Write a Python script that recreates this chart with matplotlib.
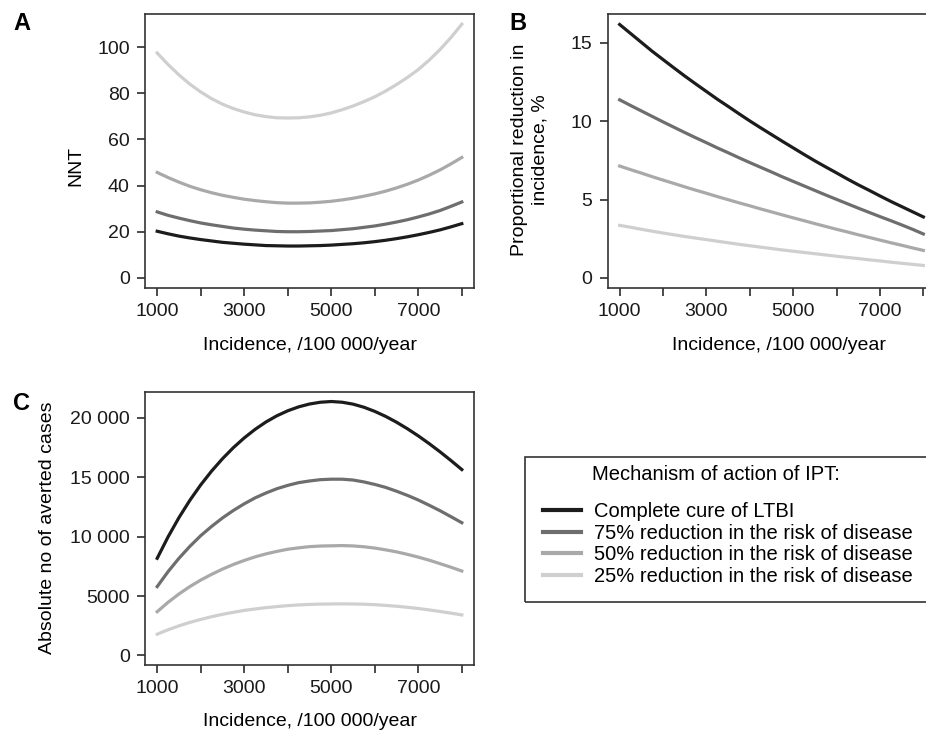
import matplotlib.pyplot as plt
from matplotlib.patches import Rectangle

plt.rcParams['font.family'] = ['Liberation Sans', 'DejaVu Sans']

W, H = 926, 732

# Incidence, /100 000/year
incidence = [1000, 1250, 1500, 1750, 2000, 2250, 2500, 2750, 3000, 3250,
             3500, 3750, 4000, 4250, 4500, 4750, 5000, 5250, 5500, 5750,
             6000, 6250, 6500, 6750, 7000, 7250, 7500, 7750, 8000]

mechanisms = ['Complete cure of LTBI',
              '75% reduction in the risk of disease',
              '50% reduction in the risk of disease',
              '25% reduction in the risk of disease']
colors = ['#1c1c1c', '#6e6e6e', '#a9a9a9', '#cfcfcf']

# A: number needed to treat
nnt_cure = [20.2, 19.1, 18.1, 17.3, 16.6, 16.0, 15.4, 15.0, 14.6, 14.3,
            14.0, 13.9, 13.8, 13.8, 13.9, 14.0, 14.2, 14.5, 14.8, 15.2,
            15.7, 16.3, 17.0, 17.8, 18.7, 19.7, 20.8, 22.1, 23.5]
nnt_75 = [28.6, 27.1, 25.9, 24.8, 23.8, 23.0, 22.3, 21.6, 21.1, 20.7,
          20.4, 20.1, 20.0, 20.0, 20.1, 20.3, 20.5, 20.9, 21.3, 21.9,
          22.5, 23.3, 24.2, 25.2, 26.4, 27.7, 29.2, 31.0, 32.9]
nnt_50 = [45.7, 43.5, 41.5, 39.7, 38.2, 36.9, 35.8, 34.9, 34.1, 33.5,
          33.0, 32.6, 32.4, 32.4, 32.5, 32.8, 33.2, 33.8, 34.5, 35.4,
          36.4, 37.6, 39.0, 40.6, 42.4, 44.5, 46.8, 49.4, 52.2]
nnt_25 = [97.5, 92.5, 88.0, 84.0, 80.6, 77.7, 75.3, 73.4, 71.9, 70.7,
          69.9, 69.4, 69.3, 69.4, 69.8, 70.5, 71.5, 72.9, 74.5, 76.4,
          78.5, 81.0, 83.8, 86.9, 90.3, 94.4, 99.0, 104.2, 110.0]

# B: proportional reduction in incidence, %
red_cure = [16.18, 15.61, 15.04, 14.47, 13.94, 13.41, 12.89, 12.39, 11.90,
            11.41, 10.95, 10.48, 10.02, 9.58, 9.15, 8.72, 8.30, 7.88, 7.47,
            7.08, 6.70, 6.31, 5.94, 5.59, 5.23, 4.88, 4.55, 4.22, 3.89]
red_75 = [11.37, 11.01, 10.66, 10.31, 9.96, 9.62, 9.28, 8.95, 8.63, 8.30,
          7.99, 7.67, 7.36, 7.06, 6.76, 6.45, 6.16, 5.87, 5.58, 5.29,
          5.01, 4.73, 4.45, 4.18, 3.91, 3.65, 3.38, 3.10, 2.80]
red_50 = [7.14, 6.91, 6.69, 6.46, 6.24, 6.03, 5.81, 5.60, 5.40, 5.19,
          4.99, 4.79, 4.60, 4.40, 4.21, 4.02, 3.83, 3.65, 3.46, 3.28,
          3.10, 2.93, 2.75, 2.58, 2.41, 2.24, 2.08, 1.91, 1.75]
red_25 = [3.35, 3.23, 3.10, 2.98, 2.86, 2.75, 2.64, 2.54, 2.44, 2.34,
          2.24, 2.14, 2.05, 1.96, 1.87, 1.78, 1.70, 1.62, 1.54, 1.46,
          1.38, 1.30, 1.23, 1.15, 1.08, 1.00, 0.93, 0.86, 0.79]

# C: absolute number of averted cases
avert_cure = [8170, 9970, 11590, 13040, 14340, 15500, 16540, 17470, 18290,
              19010, 19630, 20150, 20570, 20900, 21140, 21290, 21350, 21290,
              21130, 20870, 20520, 20100, 19610, 19060, 18460, 17810, 17120,
              16390, 15630]
avert_75 = [5790, 7050, 8170, 9170, 10070, 10850, 11560, 12190, 12750,
            13250, 13660, 14020, 14300, 14530, 14670, 14780, 14820, 14820,
            14750, 14590, 14380, 14130, 13810, 13460, 13070, 12630, 12170,
            11670, 11160]
avert_50 = [3680, 4470, 5170, 5790, 6340, 6820, 7260, 7650, 7990,
            8290, 8540, 8750, 8930, 9050, 9150, 9200, 9220, 9240,
            9210, 9140, 9030, 8880, 8710, 8500, 8270, 8010, 7720,
            7420, 7100]
avert_25 = [1790, 2160, 2490, 2780, 3030, 3260, 3460, 3630, 3790,
            3910, 4020, 4110, 4190, 4250, 4290, 4320, 4330, 4340,
            4330, 4310, 4270, 4210, 4140, 4050, 3950, 3830, 3700,
            3560, 3410]

x_ticks = [1000, 2000, 3000, 4000, 5000, 6000, 7000, 8000]
x_ticklabels = ['1000', '', '3000', '', '5000', '', '7000', '']


def px_axes(fig, left, top, right, bottom):
    return fig.add_axes([left / W, 1 - bottom / H,
                         (right - left) / W, (bottom - top) / H])


def fig_text(fig, x, y, s, **kw):
    fig.text(x / W, 1 - y / H, s, **kw)


def style_axes(ax, yticks, yticklabels, ylim):
    ax.set_xlim(720, 8280)
    ax.set_ylim(*ylim)
    ax.set_xticks(x_ticks)
    ax.set_xticklabels(x_ticklabels)
    ax.set_yticks(yticks)
    ax.set_yticklabels(yticklabels)
    ax.tick_params(direction='out', length=6, width=1.1, labelsize=14,
                   colors='#1a1a1a', pad=5)
    for sp in ax.spines.values():
        sp.set_linewidth(1.2)
        sp.set_color('#333333')


def main():
    fig = plt.figure(figsize=(W / 100, H / 100), dpi=100)

    ax_a = px_axes(fig, 145, 14, 474, 288)
    for ys, c in zip([nnt_cure, nnt_75, nnt_50, nnt_25], colors):
        ax_a.plot(incidence, ys, color=c, lw=2.3)
    style_axes(ax_a, [0, 20, 40, 60, 80, 100],
               ['0', '20', '40', '60', '80', '100'], (-4.4, 114.4))

    ax_b = px_axes(fig, 607.5, 14, 935.5, 288)
    for ys, c in zip([red_cure, red_75, red_50, red_25], colors):
        ax_b.plot(incidence, ys, color=c, lw=2.3)
    style_axes(ax_b, [0, 5, 10, 15], ['0', '5', '10', '15'], (-0.65, 16.85))

    ax_c = px_axes(fig, 145, 392, 474, 665)
    lines = []
    for ys, c in zip([avert_cure, avert_75, avert_50, avert_25], colors):
        ln, = ax_c.plot(incidence, ys, color=c, lw=2.3)
        lines.append(ln)
    style_axes(ax_c, [0, 5000, 10000, 15000, 20000],
               ['0', '5000', '10 000', '15 000', '20 000'], (-800, 22150))

    # axis titles
    fig_text(fig, 310, 345, 'Incidence, /100 000/year', fontsize=14,
             ha='center', va='center')
    fig_text(fig, 779, 345, 'Incidence, /100 000/year', fontsize=14,
             ha='center', va='center')
    fig_text(fig, 310, 721, 'Incidence, /100 000/year', fontsize=14,
             ha='center', va='center')
    fig_text(fig, 76, 166, 'NNT', fontsize=14, rotation=90,
             ha='center', va='center')
    fig_text(fig, 530, 150, 'Proportional reduction in\nincidence, %',
             fontsize=14, rotation=90, ha='center', va='center',
             multialignment='center', linespacing=1.25)
    fig_text(fig, 48, 528, 'Absolute no of averted cases', fontsize=14,
             rotation=90, ha='center', va='center')

    # panel letters
    fig_text(fig, 22, 24, 'A', fontsize=17, fontweight='bold',
             ha='center', va='center')
    fig_text(fig, 518, 23, 'B', fontsize=17, fontweight='bold',
             ha='center', va='center')
    fig_text(fig, 22, 403, 'C', fontsize=17, fontweight='bold',
             ha='center', va='center')

    # legend
    fig.patches.append(Rectangle((525 / W, 1 - 602 / H), 420 / W, 145 / H,
                                 transform=fig.transFigure, fill=False,
                                 lw=1.2, ec='#333333'))
    fig_text(fig, 592, 475, 'Mechanism of action of IPT:', fontsize=14.5,
             ha='left', va='center')
    fig.legend(lines, mechanisms, loc='upper left',
               bbox_to_anchor=(543 / W, 1 - 502 / H), frameon=False,
               fontsize=14.5, borderpad=0, borderaxespad=0,
               handlelength=1.9, handletextpad=0.62, labelspacing=0.135)
    for ln in fig.legends[0].get_lines():
        ln.set_linewidth(3)

    fig.savefig('out.png', dpi=100)


if __name__ == '__main__':
    main()
